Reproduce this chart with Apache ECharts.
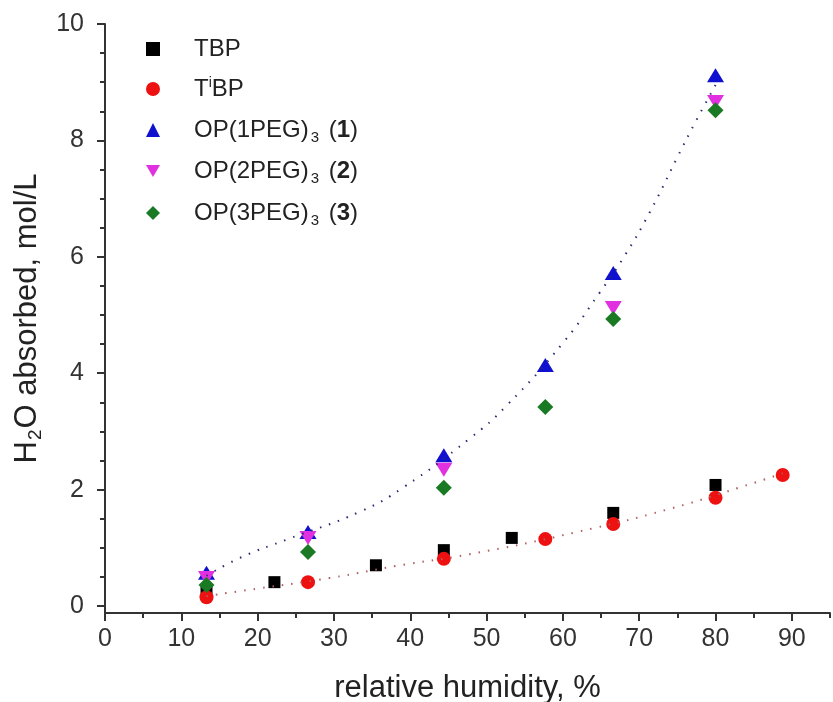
<!DOCTYPE html>
<html>
<head>
<meta charset="utf-8">
<script src="https://cdn.jsdelivr.net/npm/echarts@6/dist/echarts.min.js"></script>
<style>
  html, body { margin: 0; padding: 0; background: #fff; }
  #myChart { width: 833px; height: 702px; }
</style>
</head>
<body>
<div id="myChart"></div>
<script>
// data
const humidityTBP = [13.3, 22.2, 35.5, 44.4, 53.3, 66.6, 80.0];
const valuesTBP = [0.24, 0.41, 0.70, 0.96, 1.17, 1.60, 2.08];

const humidityTiBP = [13.3, 26.6, 44.4, 57.7, 66.6, 80.0, 88.8];
const valuesTiBP = [0.15, 0.41, 0.81, 1.15, 1.41, 1.86, 2.25];

const humidityPEG = [13.3, 26.6, 44.4, 57.7, 66.6, 80.0];
const valuesPEG1 = [0.57, 1.27, 2.59, 4.14, 5.72, 9.12];
const valuesPEG2 = [0.48, 1.17, 2.34, null, 5.12, 8.66];
const valuesPEG3 = [0.36, 0.93, 2.03, 3.42, 4.93, 8.52];

// dotted trend curves
const fitUpperX = [13.3, 17.9, 24.0, 33.4, 39.0, 47.8, 52.6, 60.0, 64.8, 68.1, 71.4, 75.0, 77.3, 80.0];
const fitUpperY = [0.52, 0.84, 1.15, 1.62, 2.03, 2.88, 3.44, 4.52, 5.38, 6.02, 6.77, 7.71, 8.30, 8.95];
const fitLowerX = [13.3, 17.9, 29.4, 38.2, 47.8, 61.8, 74.0, 84.9, 88.8];
const fitLowerY = [0.17, 0.26, 0.48, 0.69, 0.89, 1.27, 1.67, 2.11, 2.28];

// tick labels
const xMajorTicks = [0, 10, 20, 30, 40, 50, 60, 70, 80, 90];
const xMinorTicks = [5, 15, 25, 35, 45, 55, 65, 75, 85, 95];
const yMajorTicks = [0, 2, 4, 6, 8, 10];
const yMinorTicks = [0.5, 1, 1.5, 2.5, 3, 3.5, 4.5, 5, 5.5, 6.5, 7, 7.5, 8.5, 9, 9.5];

const seriesNames = ['TBP', 'TiBP', 'OP(1PEG)3 (1)', 'OP(2PEG)3 (2)', 'OP(3PEG)3 (3)'];
const legendLabels = {
  'TBP': '{m|TBP}',
  'TiBP': '{m|T}{sup|i}{m|BP}',
  'OP(1PEG)3 (1)': '{m|OP(1PEG)}{sub|3}{m| (}{b|1}{m|)}',
  'OP(2PEG)3 (2)': '{m|OP(2PEG)}{sub|3}{m| (}{b|2}{m|)}',
  'OP(3PEG)3 (3)': '{m|OP(3PEG)}{sub|3}{m| (}{b|3}{m|)}'
};

const FONT = 'Liberation Sans, Arial, sans-serif';
const AXIS_COLOR = '#333';
const TEXT_COLOR = '#222';

function pairs(xs, ys) {
  const out = [];
  for (let i = 0; i < xs.length; i++) {
    if (ys[i] != null) out.push([xs[i], ys[i]]);
  }
  return out;
}

const myChart = echarts.init(document.getElementById('myChart'), null, { renderer: 'canvas' });

const downTriangle = 'path://M0,0L20,0L10,17Z';

// one legend per row so the rows sit where the reference has them
const legendRowCenters = [47, 86, 124, 165, 207];
const legends = seriesNames.map(function (name, i) {
  return {
    data: [name],
    orient: 'vertical',
    left: 141,
    top: legendRowCenters[i] - 15,
    itemWidth: 14,
    itemHeight: 14,
    formatter: function (n) { return legendLabels[n]; },
    textStyle: {
      fontFamily: FONT,
      color: TEXT_COLOR,
      padding: [0, 0, 0, 29],
      rich: {
        m: { fontSize: 24, lineHeight: 30, color: TEXT_COLOR, fontFamily: FONT },
        b: { fontSize: 24, lineHeight: 30, color: TEXT_COLOR, fontWeight: 'bold', fontFamily: FONT },
        sub: { fontSize: 15, lineHeight: 15, padding: [16, 3, 0, 2], verticalAlign: 'bottom', color: TEXT_COLOR, fontFamily: FONT },
        sup: { fontSize: 14, lineHeight: 14, padding: [0, 0, 12, 0], color: TEXT_COLOR, fontFamily: FONT }
      }
    }
  };
});

const option = {
  backgroundColor: '#fff',
  animation: false,
  textStyle: { fontFamily: FONT },
  grid: { left: 105, right: 3, top: 24, bottom: 89, outerBoundsMode: 'none' },
  legend: legends,
  xAxis: [
    {
      type: 'value', min: 0, max: 95, position: 'bottom',
      axisLine: { onZero: false, lineStyle: { color: AXIS_COLOR, width: 2 } },
      axisTick: { customValues: xMajorTicks, length: 8, lineStyle: { color: AXIS_COLOR, width: 2 } },
      axisLabel: { customValues: xMajorTicks, fontSize: 25, color: '#333', margin: 14, fontFamily: FONT },
      splitLine: { show: false },
      name: 'relative humidity, %',
      nameLocation: 'middle',
      nameGap: 60,
      nameTextStyle: { fontSize: 31, color: TEXT_COLOR, fontFamily: FONT }
    },
    {
      type: 'value', min: 0, max: 95, position: 'bottom',
      axisLine: { show: false, onZero: false },
      axisTick: { customValues: xMinorTicks, length: 5, lineStyle: { color: AXIS_COLOR, width: 2 } },
      axisLabel: { show: false },
      splitLine: { show: false }
    }
  ],
  yAxis: [
    {
      type: 'value', min: -0.12, max: 10, position: 'left',
      axisLine: { show: true, onZero: false, lineStyle: { color: AXIS_COLOR, width: 2 } },
      axisTick: { customValues: yMajorTicks, length: 8, lineStyle: { color: AXIS_COLOR, width: 2 } },
      axisLabel: { customValues: yMajorTicks, fontSize: 25, color: '#333', margin: 21, fontFamily: FONT },
      splitLine: { show: false },
      name: '{m|H}{sub|2}{m|O absorbed, mol/L}',
      nameLocation: 'middle',
      nameRotate: 90,
      nameGap: 58,
      nameTextStyle: {
        fontFamily: FONT,
        rich: {
          m: { fontSize: 31, lineHeight: 36, color: TEXT_COLOR, fontFamily: FONT },
          sub: { fontSize: 19, lineHeight: 19, padding: [19, 1, 0, 1], verticalAlign: 'bottom', color: TEXT_COLOR, fontFamily: FONT }
        }
      }
    },
    {
      type: 'value', min: -0.12, max: 10, position: 'left',
      axisLine: { show: false, onZero: false },
      axisTick: { customValues: yMinorTicks, length: 5, lineStyle: { color: AXIS_COLOR, width: 2 } },
      axisLabel: { show: false },
      splitLine: { show: false }
    }
  ],
  series: [
    {
      name: 'fit upper', type: 'line', smooth: true, showSymbol: false, silent: true,
      data: pairs(fitUpperX, fitUpperY),
      lineStyle: { color: '#2a2a70', width: 2, type: [1.5, 8] }
    },
    {
      name: 'fit lower', type: 'line', smooth: true, showSymbol: false, silent: true,
      data: pairs(fitLowerX, fitLowerY),
      lineStyle: { color: '#b06060', width: 2, type: [1.5, 8] }
    },
    {
      name: 'TBP', type: 'scatter', symbol: 'rect', symbolSize: 12,
      itemStyle: { color: '#000', opacity: 1 },
      data: pairs(humidityTBP, valuesTBP)
    },
    {
      name: 'TiBP', type: 'scatter', symbol: 'circle', symbolSize: 14,
      itemStyle: { color: '#ee1111', opacity: 1 },
      data: pairs(humidityTiBP, valuesTiBP)
    },
    {
      name: 'OP(1PEG)3 (1)', type: 'scatter', symbol: 'triangle', symbolSize: [17, 14],
      itemStyle: { color: '#1010d0', opacity: 1 },
      data: pairs(humidityPEG, valuesPEG1)
    },
    {
      name: 'OP(2PEG)3 (2)', type: 'scatter', symbol: downTriangle, symbolSize: [17, 14],
      itemStyle: { color: '#e030e0', opacity: 1 },
      data: pairs(humidityPEG, valuesPEG2)
    },
    {
      name: 'OP(3PEG)3 (3)', type: 'scatter', symbol: 'diamond', symbolSize: [16, 16],
      itemStyle: { color: '#1a7a24', opacity: 1 },
      data: pairs(humidityPEG, valuesPEG3)
    }
  ]
};

myChart.setOption(option);
</script>
</body>
</html>
